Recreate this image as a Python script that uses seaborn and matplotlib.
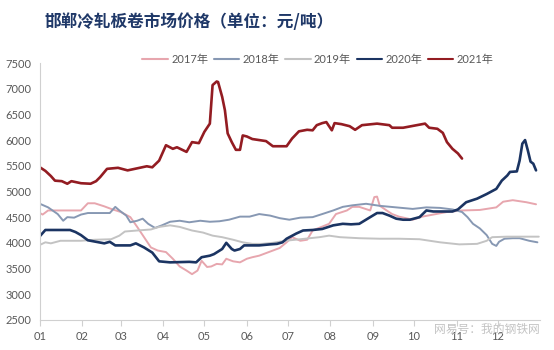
import matplotlib
matplotlib.use("Agg")
import matplotlib.pyplot as plt
import pandas as pd
import seaborn as sns

# Handan cold-rolled coil price (yuan/ton), by calendar day of each year
years = ["2017年", "2018年", "2019年", "2020年", "2021年"]

dates_2017 = ["01-01", "01-03", "01-07", "01-31", "02-05", "02-10", "02-17", "02-22",
              "03-01", "03-08", "03-13", "03-18", "03-23", "03-28", "04-03", "04-08",
              "04-13", "04-18", "04-22", "04-26", "04-29", "05-03", "05-06", "05-10",
              "05-14", "05-17", "05-22", "05-27", "06-01", "06-05", "06-10", "06-15",
              "06-20", "06-25", "06-30", "07-04", "07-10", "07-15", "07-19", "07-31",
              "08-05", "08-13", "08-17", "08-22", "08-30", "09-02", "09-04", "09-06",
              "09-11", "09-15", "09-20", "09-30", "10-07", "10-25", "11-05", "11-18",
              "11-30", "12-05", "12-12", "12-22", "12-29"]
price_2017 = [4580, 4550, 4630, 4630, 4770, 4770, 4710, 4660,
              4600, 4500, 4310, 4110, 3910, 3850, 3820, 3690,
              3540, 3460, 3390, 3460, 3650, 3530, 3540, 3590,
              3580, 3690, 3640, 3620, 3690, 3720, 3750, 3800,
              3850, 3900, 4010, 4110, 4040, 4060, 4240, 4370,
              4560, 4630, 4700, 4700, 4630, 4890, 4900, 4720,
              4630, 4560, 4510, 4450, 4510, 4600, 4630, 4640,
              4690, 4800, 4830, 4790, 4750]

dates_2018 = ["01-01", "01-07", "01-14", "01-18", "01-21", "01-26", "01-31", "02-05",
              "02-21", "02-25", "02-28", "03-05", "03-08", "03-13", "03-17", "03-21",
              "03-26", "03-31", "04-06", "04-13", "04-20", "04-28", "05-05", "05-12",
              "05-19", "05-27", "06-03", "06-10", "06-18", "06-25", "07-02", "07-10",
              "07-19", "07-26", "08-03", "08-10", "08-17", "08-27", "09-06", "09-18",
              "09-30", "10-10", "10-20", "10-29", "11-05", "11-09", "11-13", "11-18",
              "11-23", "11-27", "11-30", "12-02", "12-06", "12-12", "12-17", "12-24",
              "12-30"]
price_2018 = [4760, 4690, 4560, 4430, 4500, 4490, 4550, 4580,
              4580, 4700, 4630, 4530, 4400, 4430, 4470, 4370,
              4290, 4340, 4410, 4430, 4400, 4430, 4410, 4420,
              4450, 4510, 4510, 4560, 4530, 4480, 4450, 4490,
              4500, 4560, 4630, 4700, 4730, 4760, 4720, 4690,
              4660, 4690, 4680, 4650, 4600, 4500, 4370, 4280,
              4150, 3980, 3940, 4020, 4080, 4090, 4090, 4040,
              4010]

dates_2019 = ["01-01", "01-05", "01-09", "01-16", "01-31", "02-10", "02-22", "02-28",
              "03-04", "03-13", "03-23", "03-29", "04-06", "04-13", "04-22", "04-30",
              "05-07", "05-14", "05-22", "05-29", "06-05", "06-12", "06-20", "06-29",
              "07-10", "07-24", "07-31", "08-08", "08-22", "09-06", "09-20", "10-05",
              "10-20", "11-03", "11-16", "11-23", "11-27", "12-08", "12-31"]
price_2019 = [3960, 4010, 3990, 4040, 4040, 4060, 4070, 4140,
              4220, 4240, 4260, 4310, 4340, 4310, 4240, 4200,
              4140, 4110, 4060, 4010, 3980, 3980, 4000, 4040,
              4070, 4110, 4140, 4110, 4090, 4080, 4080, 4070,
              4010, 3970, 3980, 4040, 4110, 4120, 4120]

dates_2020 = ["01-01", "01-05", "01-23", "01-27", "01-31", "02-05", "02-11", "02-17",
              "02-21", "02-25", "03-08", "03-12", "03-18", "03-24", "03-29", "04-06",
              "04-20", "04-25", "04-29", "05-05", "05-08", "05-14", "05-17", "05-21",
              "05-23", "05-27", "05-30", "06-10", "06-18", "06-23", "06-27", "06-30",
              "07-07", "07-12", "07-19", "07-26", "08-03", "08-10", "08-16", "08-22",
              "08-30", "09-04", "09-08", "09-13", "09-18", "09-23", "09-28", "10-05",
              "10-10", "10-15", "10-29", "11-02", "11-08", "11-16", "11-23", "11-30",
              "12-04", "12-08", "12-10", "12-15", "12-17", "12-19", "12-21", "12-23",
              "12-25", "12-27", "12-29"]
price_2020 = [4130, 4250, 4250, 4210, 4150, 4050, 4020, 3990,
              4020, 3950, 3950, 3990, 3910, 3810, 3640, 3620,
              3630, 3620, 3720, 3750, 3780, 3880, 4000, 3880,
              3850, 3880, 3950, 3950, 3970, 3980, 4010, 4080,
              4180, 4240, 4250, 4270, 4340, 4370, 4360, 4370,
              4500, 4580, 4580, 4530, 4470, 4450, 4450, 4500,
              4630, 4610, 4610, 4650, 4790, 4860, 4950, 5050,
              5210, 5310, 5380, 5390, 5600, 5930, 6000, 5800,
              5580, 5540, 5410]

dates_2021 = ["01-01", "01-05", "01-09", "01-12", "01-17", "01-21", "01-24", "01-31",
              "02-07", "02-11", "02-14", "02-19", "02-27", "03-06", "03-13", "03-20",
              "03-24", "03-29", "04-03", "04-08", "04-11", "04-18", "04-22", "04-27",
              "05-01", "05-05", "05-07", "05-10", "05-11", "05-14", "05-16", "05-18",
              "05-21", "05-24", "05-27", "05-29", "06-01", "06-05", "06-10", "06-15",
              "06-20", "06-30", "07-04", "07-09", "07-15", "07-19", "07-22", "07-26",
              "07-29", "08-02", "08-04", "08-09", "08-15", "08-19", "08-24", "09-04",
              "09-13", "09-15", "09-23", "10-03", "10-09", "10-12", "10-18", "10-22",
              "10-25", "10-29", "11-02", "11-05"]
price_2021 = [5470, 5400, 5300, 5210, 5200, 5150, 5200, 5160,
              5150, 5200, 5280, 5440, 5460, 5410, 5450, 5490,
              5470, 5600, 5900, 5830, 5860, 5770, 5960, 5940,
              6160, 6320, 7070, 7140, 7130, 6840, 6580, 6130,
              5960, 5810, 5810, 6090, 6070, 6020, 6000, 5980,
              5880, 5880, 6030, 6170, 6200, 6190, 6290, 6330,
              6350, 6190, 6330, 6310, 6270, 6200, 6290, 6320,
              6290, 6240, 6240, 6290, 6320, 6240, 6220, 6140,
              5960, 5830, 5740, 5640]

y_ticks = [2500, 3000, 3500, 4000, 4500, 5000, 5500, 6000, 6500, 7000, 7500]
month_labels = ["01", "02", "03", "04", "05", "06", "07", "08", "09", "10", "11", "12"]

series = {
    "2017年": (dates_2017, price_2017),
    "2018年": (dates_2018, price_2018),
    "2019年": (dates_2019, price_2019),
    "2020年": (dates_2020, price_2020),
    "2021年": (dates_2021, price_2021),
}

# Long-form table; every year is placed on one shared (non-leap) calendar axis
frames = []
for year, (md, vals) in series.items():
    frames.append(pd.DataFrame({
        "date": pd.to_datetime(["2021-" + d for d in md]),
        "price": vals,
        "year": year,
    }))
df = pd.concat(frames, ignore_index=True)

palette = {
    "2017年": "#E7A6AE",
    "2018年": "#8798B3",
    "2019年": "#C3C3C3",
    "2020年": "#1B3462",
    "2021年": "#931C22",
}
widths = {"2017年": 1.4, "2018年": 1.4, "2019年": 1.4, "2020年": 1.9, "2021年": 1.9}

sns.set_theme(style="white")
plt.rcParams["font.family"] = ["Lato", "Noto Sans CJK SC", "DejaVu Sans"]

fig = plt.figure(figsize=(5.54, 3.5), dpi=100)
ax = fig.add_axes([0.072, 0.086, 0.903, 0.734])

sns.lineplot(data=df, x="date", y="price", hue="year", hue_order=years,
             palette=palette, estimator=None, sort=False, ax=ax)
for line, year in zip(ax.get_lines(), years):
    line.set_linewidth(widths[year])
    line.set_solid_joinstyle("round")

ax.set_xlim(pd.Timestamp("2021-01-01"), pd.Timestamp("2022-01-01"))
ax.set_ylim(2500, 7500)
ax.set_yticks(y_ticks)
ax.set_yticklabels([str(v) for v in y_ticks])

month_starts = pd.date_range("2021-01-01", periods=12, freq="MS")
ax.set_xticks(month_starts)
ax.set_xticklabels(month_labels)

grey_text = "#595959"
ax.tick_params(axis="x", length=4, width=0.8, color="#D0D0D0", pad=4,
               labelsize=8, labelcolor=grey_text, bottom=True)
ax.tick_params(axis="y", length=0, pad=6, labelsize=8, labelcolor=grey_text)

for side in ("top", "right"):
    ax.spines[side].set_visible(False)
for side in ("left", "bottom"):
    ax.spines[side].set_color("#D0D0D0")
    ax.spines[side].set_linewidth(0.8)

ax.set_xlabel("")
ax.set_ylabel("")
ax.grid(False)

handles, labels = ax.get_legend_handles_labels()
ax.legend(handles, labels, ncol=5, frameon=False, loc="center",
          bbox_to_anchor=(0.574, 0.829), bbox_transform=fig.transFigure,
          fontsize=8, handlelength=2.3, handletextpad=0.3, columnspacing=0.5,
          labelcolor=grey_text)

fig.text(0.081, 0.937, "邯郸冷轧板卷市场价格（单位：元/吨）",
         fontsize=12, fontweight="bold", color="#1F3868",
         family=["Noto Sans CJK SC", "DejaVu Sans"], ha="left", va="center")

fig.text(0.975, 0.06, "网易号：我的钢铁网", fontsize=8.5, color="#BDBDBD",
         family=["Noto Sans CJK SC", "DejaVu Sans"], ha="right", va="center",
         alpha=0.9)

fig.savefig("out.png", dpi=100)
